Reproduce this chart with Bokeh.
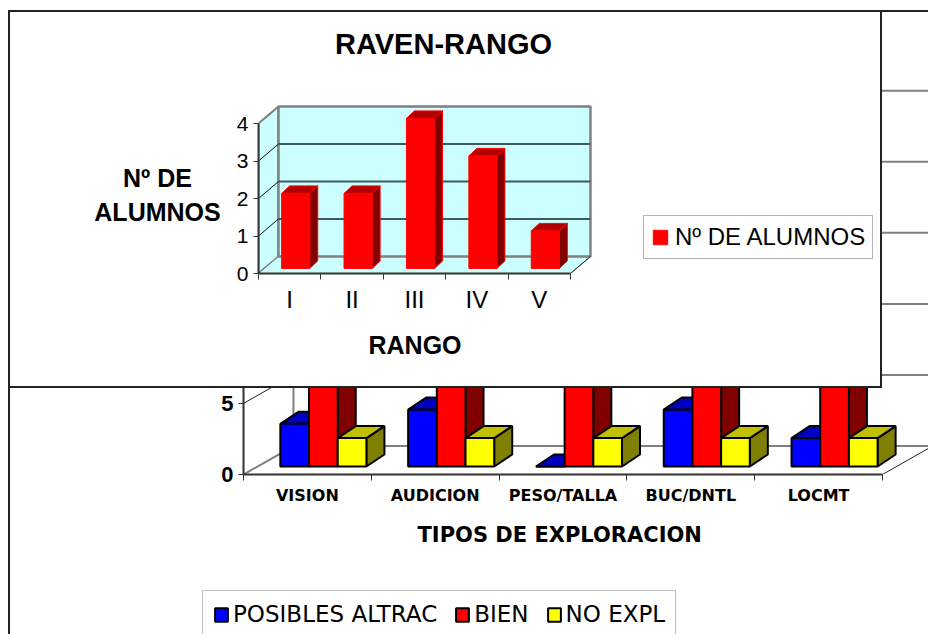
from bokeh.plotting import figure
from bokeh.models import Range1d, FixedTicker, Legend, LegendItem, Title, Label
from bokeh.embed import file_html
from bokeh.resources import INLINE

# ---------------- data ----------------
raven_categories = ["I", "II", "III", "IV", "V"]
raven_alumnos = [2, 2, 4, 3, 1]
raven_ticks = [0, 1, 2, 3, 4]

explor_categories = ["VISION", "AUDICION", "PESO/TALLA", "BUC/DNTL", "LOCMT"]
posibles_altrac = [3, 4, 0, 4, 2]
bien = [7, 6, 10, 6, 8]
no_expl = [2, 2, 2, 2, 2]
explor_ticks = [0, 5, 10, 15, 20, 25]


def faces(centers, values, half_w, off_x, off_y, depth_x, depth_y):
    left = [c - half_w + off_x for c in centers]
    right = [c + half_w + off_x for c in centers]
    bottom = [off_y for _ in centers]
    top = [v + off_y for v in values]
    top_xs = [[l, r, r + depth_x, l + depth_x] for l, r in zip(left, right)]
    top_ys = [[t, t, t + depth_y, t + depth_y] for t in top]
    side_xs = [[r, r, r + depth_x, r + depth_x] for r in right]
    side_ys = [[b, t, t + depth_y, b + depth_y] for b, t in zip(bottom, top)]
    return left, right, bottom, top, top_xs, top_ys, side_xs, side_ys


# ================= background chart (exploraciones) =================
bg = figure(width=920, height=624, output_backend="svg", toolbar_location=None,
            x_range=Range1d(0, 5.36), y_range=Range1d(0, 32.5),
            min_border_left=235, min_border_right=0, min_border_top=2,
            min_border_bottom=160, border_fill_color=None,
            background_fill_color=None, outline_line_color=None)
bg.styles = {"position": "absolute", "left": "8px", "top": "10px",
             "box-shadow": "inset 2px 2px 0 0 #222"}
bg.grid.visible = False

n_bg = len(explor_categories)
wall_dx, wall_dy = 0.391, 2.0          # depth of the 3D box (data units)
grid_xs = [[wall_dx, n_bg + wall_dx] for _ in explor_ticks]
grid_ys = [[t + wall_dy, t + wall_dy] for t in explor_ticks]
bg.multi_line(grid_xs, grid_ys, line_color="#808080", line_width=2)
bg.line([wall_dx, wall_dx], [wall_dy, explor_ticks[-1] + wall_dy],
        line_color="#808080", line_width=2)
diag_xs = [[0, wall_dx] for _ in explor_ticks]
diag_ys = [[t, t + wall_dy] for t in explor_ticks]
bg.multi_line(diag_xs, diag_ys, line_color="#222222", line_width=1)
bg.line([0, wall_dx], [0, wall_dy], line_color="#808080", line_width=2)
bg.line([n_bg, n_bg + wall_dx], [0, wall_dy], line_color="#222222", line_width=1)

centers = [i + 0.5 for i in range(n_bg)]
bar_w = 0.2245
bar_off_x, bar_off_y = 0.125, 0.563
bdx, bdy = 0.141, 0.845
series = [
    (posibles_altrac, "POSIBLES ALTRAC", "#0000FF", "#0000C0", "#000080", -1),
    (bien, "BIEN", "#FF0000", "#C00000", "#800000", 0),
    (no_expl, "NO EXPL", "#FFFF00", "#C0C000", "#808000", 1),
]
fronts = []
for vals, name, c_front, c_top, c_side, k in series:
    cs = [c + k * bar_w for c in centers]
    l, r, b, t, txs, tys, sxs, sys_ = faces(cs, vals, bar_w / 2, bar_off_x,
                                            bar_off_y, bdx, bdy)
    bg.patches(sxs, sys_, fill_color=c_side, line_color="black", line_width=2)
    bg.patches(txs, tys, fill_color=c_top, line_color="black", line_width=2)
    bg.quad(left=l, right=r, bottom=b, top=t, fill_color=c_front,
            line_color="black", line_width=2)
    fronts.append((l, r, b, t, c_front, name))

xa = bg.xaxis[0]
xa.ticker = FixedTicker(ticks=centers, minor_ticks=list(range(n_bg + 1)))
xa.major_label_overrides = {c: lab for c, lab in zip(centers, explor_categories)}
xa.bounds = (0, n_bg)
xa.major_tick_out = 0
xa.major_tick_in = 0
xa.minor_tick_out = 6
xa.minor_tick_in = 0
xa.minor_tick_line_color = "#333333"
xa.axis_line_color = "#333333"
xa.axis_line_width = 2
xa.major_label_standoff = 5
xa.major_label_text_font = "DejaVu Sans"
xa.major_label_text_font_style = "bold"
xa.major_label_text_font_size = "16px"
xa.major_label_text_color = "black"

ya = bg.yaxis[0]
ya.ticker = FixedTicker(ticks=explor_ticks)
ya.bounds = (0, explor_ticks[-1])
ya.major_tick_out = 5
ya.major_tick_in = 0
ya.minor_tick_out = 0
ya.minor_tick_in = 0
ya.axis_line_color = "#333333"
ya.axis_line_width = 2
ya.major_tick_line_color = "#333333"
ya.major_label_standoff = 5
ya.major_label_text_font = "Liberation Sans"
ya.major_label_text_font_style = "bold"
ya.major_label_text_font_size = "22px"
ya.major_label_text_color = "black"

bg_xtitle = Title(text="TIPOS DE EXPLORACION", align="left", offset=174, standoff=27,
                  text_font="DejaVu Sans", text_font_style="bold",
                  text_font_size="21px", text_color="black")
bg.add_layout(bg_xtitle, "below")

# legend of the background chart (own small canvas, cut by the page bottom);
# its proxy bars use the same data but lie outside this canvas' visible range
leg = figure(width=476, height=45, output_backend="svg", toolbar_location=None,
             x_range=Range1d(-2, -1), y_range=Range1d(0, 1),
             x_axis_type=None, y_axis_type=None, min_border=0,
             border_fill_color=None, background_fill_color=None,
             outline_line_color=None)
leg.styles = {"position": "absolute", "left": "201px", "top": "589px", "z-index": "2"}
leg.grid.visible = False
leg_items = []
for l, r, b, t, c_front, name in fronts:
    rr = leg.quad(left=l, right=r, bottom=b, top=t, fill_color=c_front,
                  line_color="black", line_width=2)
    leg_items.append(LegendItem(label=name, renderers=[rr]))
bg_legend = Legend(items=leg_items, orientation="horizontal", location="top_left",
                   glyph_width=16, glyph_height=17, label_standoff=4, spacing=17,
                   padding=10, margin=1, border_line_color="#808080",
                   border_line_width=1.5, label_text_font="DejaVu Sans",
                   label_text_font_size="23px", label_text_color="black",
                   background_fill_color="white", background_fill_alpha=1.0)
leg.add_layout(bg_legend, "center")

# ================= foreground chart (RAVEN-RANGO) =================
fg = figure(width=874, height=378, output_backend="svg", toolbar_location=None,
            x_range=Range1d(0, 9.968), y_range=Range1d(0, 6.96),
            min_border_left=250, min_border_right=2, min_border_top=2,
            min_border_bottom=115, border_fill_color=None,
            background_fill_color=None, outline_line_color=None)
fg.styles = {"position": "absolute", "left": "8px", "top": "10px", "z-index": "1",
             "background-color": "white", "box-shadow": "inset 0 0 0 2px #222"}
fg.grid.visible = False

n_fg = len(raven_categories)
top_v = raven_ticks[-1]
fdx, fdy = 0.32, 0.453
cyan = "#CCFFFF"
fg.patch([0, 0, fdx, fdx], [0, top_v, top_v + fdy, fdy], fill_color=cyan,
         line_color="#808080", line_width=2)
fg.patch([0, n_fg, n_fg + fdx, fdx], [0, 0, fdy, fdy], fill_color=cyan,
         line_color="#808080", line_width=1)
fg.quad(left=[fdx], right=[n_fg + fdx], bottom=[fdy], top=[top_v + fdy],
        fill_color=cyan, line_color="#808080", line_width=2.5)
fgrid_xs = [[fdx, n_fg + fdx] for _ in raven_ticks[1:-1]]
fgrid_ys = [[t + fdy, t + fdy] for t in raven_ticks[1:-1]]
fg.multi_line(fgrid_xs, fgrid_ys, line_color="#3F5A5A", line_width=2)
fdiag_xs = [[0, fdx] for _ in raven_ticks[1:-1]]
fdiag_ys = [[t, t + fdy] for t in raven_ticks[1:-1]]
fg.multi_line(fdiag_xs, fdiag_ys, line_color="#111111", line_width=1)
fg.line([n_fg, n_fg + fdx], [0, fdy], line_color="#222222", line_width=1)

fcenters = [i + 0.5 for i in range(n_fg)]
l, r, b, t, txs, tys, sxs, sys_ = faces(fcenters, raven_alumnos, 0.225, 0.3 * fdx,
                                        0.3 * fdy, 0.128, 0.2)
fg.patches(sxs, sys_, fill_color="#800000", line_color="#FF0000", line_width=1)
fg.patches(txs, tys, fill_color="#B00000", line_color="#FF0000", line_width=1)
ffront = fg.quad(left=l, right=r, bottom=b, top=t, fill_color="#FF0000",
                 line_color="#FF0000", line_width=1)

fx = fg.xaxis[0]
fx.ticker = FixedTicker(ticks=fcenters, minor_ticks=list(range(n_fg + 1)))
fx.major_label_overrides = {c: lab for c, lab in zip(fcenters, raven_categories)}
fx.bounds = (0, n_fg)
fx.major_tick_out = 0
fx.major_tick_in = 0
fx.minor_tick_out = 6
fx.minor_tick_in = 0
fx.minor_tick_line_color = "#333333"
fx.axis_line_color = "#333333"
fx.axis_line_width = 2
fx.major_label_standoff = 6
fx.major_label_text_font = "Liberation Sans"
fx.major_label_text_font_size = "24px"
fx.major_label_text_color = "black"

fg_xtitle = Title(text="RANGO", align="left", offset=110, standoff=27,
                  text_font="Liberation Sans", text_font_style="bold",
                  text_font_size="25px", text_color="black")
fg.add_layout(fg_xtitle, "below")

fy = fg.yaxis[0]
fy.ticker = FixedTicker(ticks=raven_ticks)
fy.bounds = (0, top_v)
fy.major_tick_out = 5
fy.major_tick_in = 0
fy.minor_tick_out = 0
fy.minor_tick_in = 0
fy.axis_line_color = "#333333"
fy.axis_line_width = 2
fy.major_tick_line_color = "#333333"
fy.major_label_standoff = 5
fy.major_label_text_font = "Liberation Sans"
fy.major_label_text_font_size = "21px"
fy.major_label_text_color = "black"

fg_title = Label(x=2.965, y=6.13, text="RAVEN-RANGO", text_align="center",
                 text_baseline="middle", text_font="Liberation Sans",
                 text_font_style="bold", text_font_size="29px", text_color="black")
fg.add_layout(fg_title)

fg_legend = Legend(items=[LegendItem(label="Nº DE ALUMNOS", renderers=[ffront])],
                   location=(385, 14), glyph_width=18, glyph_height=18,
                   label_standoff=6, padding=7, margin=0,
                   border_line_color="#666666", border_line_width=1.5,
                   label_text_font="Liberation Sans", label_text_font_size="24px",
                   label_text_color="black")
fg.add_layout(fg_legend, "center")

# y-axis title of the RAVEN chart (horizontal, two centred lines)
ylab = figure(width=160, height=80, output_backend="svg", toolbar_location=None,
              x_range=Range1d(0, 160), y_range=Range1d(0, 80),
              x_axis_type=None, y_axis_type=None, min_border=0,
              border_fill_color=None, background_fill_color=None,
              outline_line_color=None)
ylab.styles = {"position": "absolute", "left": "80px", "top": "150px", "z-index": "3"}
ylab.grid.visible = False
ylab.add_layout(Label(x=77, y=35.5, text="Nº DE\nALUMNOS", text_align="center",
                      text_baseline="middle", text_font="Liberation Sans",
                      text_font_style="bold", text_font_size="25px",
                      text_color="black", text_line_height=1.2))

open("out.html", "w").write(file_html([bg, fg, leg, ylab], INLINE))
